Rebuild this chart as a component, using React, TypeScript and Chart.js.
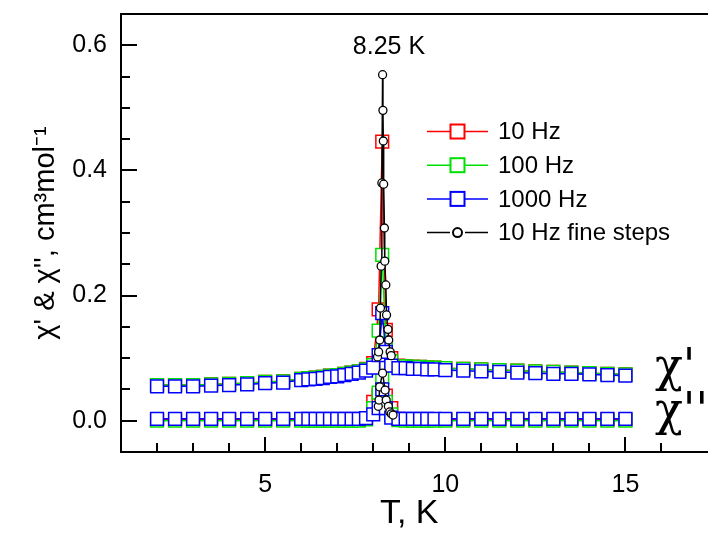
import React, { useEffect, useRef } from "react";
import { Chart, registerables } from "chart.js";

Chart.register(...registerables);

// ---------- data ----------
const temps = [2, 2.5, 3, 3.5, 4, 4.5, 5, 5.5, 6, 6.2, 6.4, 6.6, 6.8, 7, 7.2, 7.4, 7.6, 7.8, 8, 8.15, 8.25, 8.35, 8.5, 8.7, 8.9, 9.1, 9.3, 9.5, 9.7, 10, 10.5, 11, 11.5, 12, 12.5, 13, 13.5, 14, 14.5, 15];

// chi' (in-phase)
const chi1_10Hz = [0.057, 0.057, 0.057, 0.058, 0.059, 0.060, 0.062, 0.063, 0.067, 0.068, 0.069, 0.070, 0.072, 0.073, 0.075, 0.077, 0.079, 0.083, 0.092, 0.178, 0.446, 0.145, 0.100, 0.088, 0.087, 0.086, 0.086, 0.085, 0.085, 0.084, 0.083, 0.082, 0.081, 0.080, 0.079, 0.078, 0.077, 0.076, 0.075, 0.074];
const chi1_100Hz = [0.057, 0.057, 0.057, 0.058, 0.059, 0.060, 0.062, 0.063, 0.067, 0.068, 0.069, 0.070, 0.072, 0.073, 0.075, 0.077, 0.079, 0.082, 0.089, 0.144, 0.265, 0.120, 0.095, 0.087, 0.087, 0.086, 0.086, 0.085, 0.085, 0.084, 0.083, 0.082, 0.081, 0.080, 0.079, 0.078, 0.077, 0.076, 0.075, 0.074];
const chi1_1000Hz = [0.055, 0.055, 0.055, 0.056, 0.057, 0.058, 0.060, 0.061, 0.065, 0.066, 0.067, 0.068, 0.070, 0.071, 0.073, 0.075, 0.077, 0.080, 0.085, 0.105, 0.172, 0.110, 0.088, 0.084, 0.084, 0.083, 0.083, 0.082, 0.082, 0.081, 0.080, 0.079, 0.078, 0.077, 0.076, 0.075, 0.075, 0.074, 0.073, 0.072];

// chi'' (out-of-phase)
const chi2_10Hz = [0.002, 0.002, 0.002, 0.002, 0.002, 0.002, 0.002, 0.002, 0.002, 0.002, 0.002, 0.002, 0.002, 0.002, 0.002, 0.002, 0.002, 0.003, 0.030, 0.040, 0.090, 0.040, 0.020, 0.003, 0.002, 0.002, 0.002, 0.002, 0.002, 0.002, 0.002, 0.002, 0.002, 0.002, 0.002, 0.002, 0.002, 0.002, 0.002, 0.002];
const chi2_100Hz = [0.000, 0.000, 0.000, 0.000, 0.000, 0.000, 0.000, 0.000, 0.000, 0.000, 0.000, 0.000, 0.000, 0.000, 0.000, 0.000, 0.000, 0.002, 0.020, 0.045, 0.070, 0.030, 0.010, 0.001, 0.000, 0.000, 0.000, 0.000, 0.000, 0.000, 0.000, 0.000, 0.000, 0.000, 0.000, 0.000, 0.000, 0.000, 0.000, 0.000];
const chi2_1000Hz = [0.003, 0.003, 0.003, 0.003, 0.003, 0.003, 0.003, 0.003, 0.003, 0.003, 0.003, 0.003, 0.003, 0.003, 0.003, 0.003, 0.003, 0.004, 0.010, 0.020, 0.050, 0.020, 0.005, 0.003, 0.003, 0.003, 0.003, 0.003, 0.003, 0.003, 0.003, 0.003, 0.003, 0.003, 0.003, 0.003, 0.003, 0.003, 0.003, 0.003];

// 10 Hz fine steps
const fineTempsChi1 = [8.12, 8.15, 8.18, 8.20, 8.22, 8.24, 8.26, 8.27, 8.28, 8.29, 8.31, 8.32, 8.35, 8.37, 8.41, 8.43, 8.47, 8.50];
const fineChi1 = [0.102, 0.110, 0.129, 0.180, 0.247, 0.380, 0.553, 0.496, 0.447, 0.378, 0.308, 0.255, 0.217, 0.169, 0.146, 0.129, 0.110, 0.104];
const fineTempsChi2 = [8.14, 8.16, 8.18, 8.26, 8.33, 8.36, 8.42, 8.46, 8.50, 8.55];
const fineChi2 = [0.023, 0.033, 0.054, 0.076, 0.049, 0.033, 0.023, 0.014, 0.011, 0.009];

const xTickLabels = [5, 10, 15];
const yTickLabels = [0.0, 0.2, 0.4, 0.6];
const xMinorTicks = [2, 3, 4, 5, 6, 7, 8, 9, 10, 11, 12, 13, 14, 15, 16];
const yMinorTicks = [0, 0.05, 0.1, 0.15, 0.2, 0.25, 0.3, 0.35, 0.4, 0.45, 0.5, 0.55, 0.6];
const legendLabels = ["10 Hz", "100 Hz", "1000 Hz", "10 Hz fine steps"];
const peakLabel = "8.25 K";

const X_MIN = 1;
const X_MAX = 17;
const Y_MIN = -0.05;
const Y_MAX = 0.65;

const RED = "#ff0000";
const GREEN = "#00e000";
const BLUE = "#0000ff";
const BLACK = "#000000";
const FONT = "'Liberation Sans', Arial, sans-serif";

const pts = (xs: number[], ys: number[]) => xs.map((x, i) => ({ x, y: ys[i] }));

function sq(label: string, color: string, xs: number[], ys: number[], order: number) {
  return {
    label,
    data: pts(xs, ys),
    showLine: true,
    borderColor: color,
    borderWidth: 1.5,
    pointStyle: "rect",
    pointRadius: 9,
    pointBorderWidth: 1.5,
    pointBorderColor: color,
    pointBackgroundColor: "#ffffff",
    order,
  };
}

function circ(label: string, xs: number[], ys: number[]) {
  return {
    label,
    data: pts(xs, ys),
    showLine: true,
    borderColor: BLACK,
    borderWidth: 1.5,
    pointStyle: "circle",
    pointRadius: 4,
    pointBorderWidth: 1.3,
    pointBorderColor: BLACK,
    pointBackgroundColor: "#ffffff",
    order: 0,
  };
}

const decorPlugin = {
  id: "decor",
  afterDraw(chart: any) {
    const ctx = chart.ctx as CanvasRenderingContext2D;
    const sx = chart.scales.x;
    const sy = chart.scales.y;
    const area = chart.chartArea;
    const left = Math.round(area.left);
    const top = Math.round(area.top);
    const bottom = Math.round(area.bottom);
    const right = chart.width;

    ctx.save();
    ctx.fillStyle = "#000000";
    // frame as filled rectangles (crisp)
    ctx.fillRect(left - 1, top - 1, right - left + 1, 2);
    ctx.fillRect(left - 1, top - 1, 2, bottom - top + 2);
    ctx.fillRect(left - 1, bottom - 1, right - left + 1, 2);

    // tick marks as filled rectangles
    xMinorTicks.forEach((v) => {
      const px = Math.round(sx.getPixelForValue(v));
      const len = xTickLabels.indexOf(v) >= 0 ? 15 : 9;
      ctx.fillRect(px - 1, bottom - len, 2, len);
    });
    yMinorTicks.forEach((v) => {
      const py = Math.round(sy.getPixelForValue(v));
      let major = false;
      yTickLabels.forEach((t) => {
        if (Math.abs(t - v) < 1e-6) major = true;
      });
      const len = major ? 16 : 9;
      ctx.fillRect(left, py - 1, len, 2);
    });

    // legend
    const colors = [RED, GREEN, BLUE, BLACK];
    legendLabels.forEach((lab, i) => {
      const y = 131.5 + i * 33.7;
      ctx.strokeStyle = colors[i];
      ctx.lineWidth = 1.5;
      ctx.beginPath();
      ctx.moveTo(427, y);
      ctx.lineTo(450, y);
      ctx.moveTo(465, y);
      ctx.lineTo(488, y);
      ctx.stroke();
      ctx.fillStyle = "#ffffff";
      ctx.lineWidth = 2;
      if (i < 3) {
        ctx.fillRect(450.5, y - 7, 14, 14);
        ctx.strokeRect(450.5, y - 7, 14, 14);
      } else {
        ctx.beginPath();
        ctx.arc(457.5, y, 4.5, 0, Math.PI * 2);
        ctx.fill();
        ctx.stroke();
      }
      ctx.fillStyle = "#000000";
      ctx.font = `24px ${FONT}`;
      ctx.textBaseline = "middle";
      ctx.textAlign = "left";
      ctx.fillText(lab, 498, y + 1);
    });

    // peak annotation
    ctx.fillStyle = "#000000";
    ctx.font = `25px ${FONT}`;
    ctx.textAlign = "center";
    ctx.textBaseline = "middle";
    ctx.fillText(peakLabel, 389, 47);

    // chi labels
    ctx.font = `46px 'DejaVu Serif', 'Liberation Serif', serif`;
    ctx.textAlign = "left";
    ctx.textBaseline = "alphabetic";
    ctx.fillText("\u03C7'", 655, 381);
    ctx.fillText("\u03C7''", 655, 425);
    ctx.restore();
  },
};

export default function App() {
  const ref = useRef<HTMLCanvasElement | null>(null);
  useEffect(() => {
    if (!ref.current) return;
    Chart.defaults.font.family = FONT;
    Chart.defaults.color = "#000";
    const chart = new Chart(ref.current, {
      type: "scatter",
      data: {
        datasets: [
          circ("10 Hz fine steps χ'", fineTempsChi1, fineChi1),
          circ("10 Hz fine steps χ''", fineTempsChi2, fineChi2),
          sq("1000 Hz χ'", BLUE, temps, chi1_1000Hz, 1),
          sq("1000 Hz χ''", BLUE, temps, chi2_1000Hz, 1),
          sq("100 Hz χ'", GREEN, temps, chi1_100Hz, 2),
          sq("100 Hz χ''", GREEN, temps, chi2_100Hz, 2),
          sq("10 Hz χ'", RED, temps, chi1_10Hz, 3),
          sq("10 Hz χ''", RED, temps, chi2_10Hz, 3),
        ] as any,
      },
      options: {
        animation: false,
        responsive: false,
        devicePixelRatio: 1,
        layout: { padding: { top: 14, right: 0, left: 0, bottom: 0 } },
        plugins: { legend: { display: false }, tooltip: { enabled: false } },
        scales: {
          x: {
            type: "linear",
            min: X_MIN,
            max: X_MAX,
            grid: { display: false, drawTicks: false },
            border: { display: false },
            afterFit: (s: any) => {
              s.height = 82;
              s.paddingLeft = 0;
              s.paddingRight = 0;
            },
            afterBuildTicks: (s: any) => {
              s.ticks = xTickLabels.map((v) => ({ value: v }));
            },
            ticks: { font: { size: 25, family: FONT }, padding: 18, color: "#000", maxRotation: 0 },
            title: { display: true, text: "T, K", font: { size: 34, family: FONT }, padding: 0, color: "#000" },
          },
          y: {
            type: "linear",
            min: Y_MIN,
            max: Y_MAX,
            grid: { display: false, drawTicks: false },
            border: { display: false },
            afterFit: (s: any) => {
              s.width = 121;
              s.paddingTop = 0;
              s.paddingBottom = 0;
            },
            afterBuildTicks: (s: any) => {
              s.ticks = yTickLabels.map((v) => ({ value: v }));
            },
            ticks: {
              font: { size: 25, family: FONT },
              padding: 14,
              color: "#000",
              callback: (v: any) => Number(v).toFixed(1),
            },
            title: {
              display: true,
              text: "\u03C7' & \u03C7'', cm\u00B3mol\u207B\u00B9",
              font: { size: 29, family: FONT },
              padding: { top: 29, bottom: 0 },
              color: "#000",
            },
          },
        },
      },
      plugins: [decorPlugin],
    });
    return () => chart.destroy();
  }, []);
  return (
    <div style={{ position: "absolute", left: 0, top: 0, width: 708, height: 534, background: "#fff" }}>
      <canvas ref={ref} width={708} height={534} />
    </div>
  );
}
